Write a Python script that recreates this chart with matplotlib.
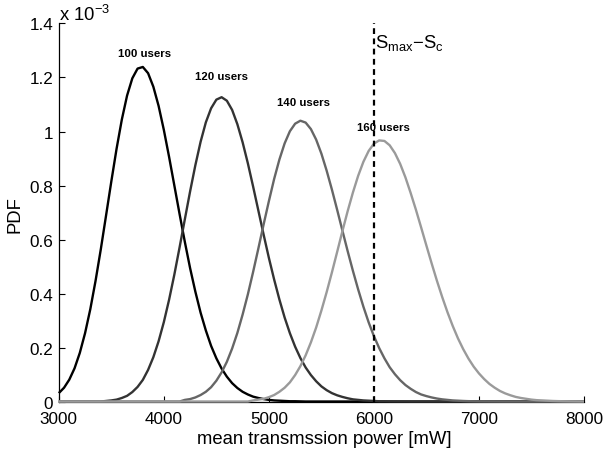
import numpy as np
import matplotlib
matplotlib.use("Agg")
import matplotlib.pyplot as plt

plt.rcParams['font.family'] = ['Liberation Sans', 'DejaVu Sans']
plt.rcParams['mathtext.fontset'] = 'custom'
plt.rcParams['mathtext.rm'] = 'Liberation Sans'
plt.rcParams['mathtext.it'] = 'Liberation Sans'
plt.rcParams['mathtext.bf'] = 'Liberation Sans:bold'

# ---------------- data (PDF values in units of 1e-3) ----------------
power_mw = np.arange(3000, 8001, 50)          # shared x grid [mW]

pdf_100 = [
    0.031, 0.051, 0.081, 0.123, 0.180, 0.253, 0.342, 0.447, 0.564, 0.689,
    0.815, 0.936, 1.044, 1.133, 1.197, 1.233, 1.239, 1.216, 1.166, 1.095,
    1.006, 0.906, 0.800, 0.694, 0.591, 0.494, 0.407, 0.329, 0.263, 0.206,
    0.160, 0.122, 0.092, 0.068, 0.050, 0.036, 0.026, 0.018, 0.013, 0.009,
    0.006, 0.004, 0.003, 0.002, 0.001, 0.001, 0.0005,
    0, 0, 0, 0, 0, 0, 0, 0, 0, 0,
    0, 0, 0, 0, 0, 0, 0, 0, 0, 0,
    0, 0, 0, 0, 0, 0, 0, 0, 0, 0,
    0, 0, 0, 0, 0, 0, 0, 0, 0, 0,
    0, 0, 0, 0, 0, 0, 0, 0, 0, 0,
    0, 0, 0, 0,
]

pdf_120 = [
    0, 0, 0, 0, 0, 0, 0, 0, 0,
    0.002, 0.004, 0.007, 0.013, 0.021, 0.035, 0.054, 0.080, 0.117, 0.164,
    0.223, 0.294, 0.377, 0.470, 0.571, 0.675, 0.778, 0.875, 0.962, 1.034,
    1.086, 1.118, 1.127, 1.114, 1.080, 1.027, 0.960, 0.882, 0.796, 0.707,
    0.618, 0.532, 0.452, 0.378, 0.311, 0.253, 0.203, 0.161, 0.126, 0.098,
    0.075, 0.056, 0.042, 0.031, 0.023, 0.017, 0.012, 0.008, 0.006, 0.004,
    0.003, 0.002, 0.001, 0.001, 0.0006, 0.0004, 0.0003, 0.0002,
    0, 0, 0, 0, 0, 0, 0, 0, 0, 0,
    0, 0, 0, 0, 0, 0, 0, 0, 0, 0,
    0, 0, 0, 0, 0, 0, 0, 0, 0, 0,
    0, 0, 0, 0,
]

pdf_140 = [
    0, 0, 0, 0, 0, 0, 0, 0, 0, 0,
    0, 0, 0, 0, 0, 0, 0, 0, 0, 0,
    0, 0, 0, 0,
    0.006, 0.009, 0.015, 0.024, 0.036, 0.053, 0.077, 0.108, 0.147, 0.196,
    0.254, 0.322, 0.397, 0.480, 0.567, 0.656, 0.742, 0.824, 0.896, 0.956,
    1.001, 1.029, 1.040, 1.033, 1.009, 0.970, 0.918, 0.855, 0.785, 0.710,
    0.633, 0.557, 0.484, 0.415, 0.351, 0.293, 0.242, 0.198, 0.160, 0.127,
    0.101, 0.079, 0.061, 0.047, 0.035, 0.026, 0.020, 0.015, 0.011, 0.008,
    0.006, 0.004, 0.003, 0.002, 0.0013, 0.0009, 0.0006, 0.0004, 0.0003, 0.0002,
    0.0001,
    0, 0, 0, 0, 0, 0, 0, 0, 0, 0,
    0, 0, 0, 0, 0, 0,
]

pdf_160 = [
    0, 0, 0, 0, 0, 0, 0, 0, 0, 0,
    0, 0, 0, 0, 0, 0, 0, 0, 0, 0,
    0, 0, 0, 0, 0, 0, 0, 0, 0, 0,
    0, 0, 0, 0, 0, 0, 0,
    0.004, 0.007, 0.010, 0.016, 0.024, 0.036, 0.051, 0.071, 0.098, 0.131,
    0.171, 0.219, 0.274, 0.337, 0.405, 0.478, 0.554, 0.631, 0.705, 0.774,
    0.836, 0.888, 0.928, 0.955, 0.967, 0.965, 0.949, 0.920, 0.880, 0.830,
    0.772, 0.710, 0.644, 0.577, 0.511, 0.447, 0.387, 0.331, 0.280, 0.234,
    0.194, 0.159, 0.129, 0.104, 0.083, 0.065, 0.051, 0.039, 0.030, 0.023,
    0.017, 0.013, 0.010, 0.007, 0.005, 0.004, 0.003, 0.002, 0.0014, 0.001,
    0.0007, 0.0005, 0.0003, 0.0002,
]

series_labels = ['100 users', '120 users', '140 users', '160 users']
smax_minus_sc = 6000                          # threshold [mW]
x_ticks = [3000, 4000, 5000, 6000, 7000, 8000]
y_ticks = [0, 0.2, 0.4, 0.6, 0.8, 1.0, 1.2, 1.4]
y_tick_labels = ['0', '0.2', '0.4', '0.6', '0.8', '1', '1.2', '1.4']

# ---------------- styling / annotation placement ----------------
colors = ['#000000', '#333333', '#666666', '#9a9a9a']
label_pos = [(3815, 1.289), (4553, 1.204), (5333, 1.108), (6091, 1.018)]

fig = plt.figure(figsize=(6.03, 4.52), dpi=100)
ax = fig.add_axes([0.0975, 0.1095, 0.8710, 0.8363])

for vals, col in zip([pdf_100, pdf_120, pdf_140, pdf_160], colors):
    ax.plot(power_mw, vals, color=col, lw=1.7, zorder=3, clip_on=False,
            solid_capstyle='butt', solid_joinstyle='round')

ax.axvline(smax_minus_sc, color='black', lw=1.6, ls=(0, (2.6, 2.0)), zorder=4)

for (lx, ly), lab in zip(label_pos, series_labels):
    ax.text(lx, ly, lab, ha='center', va='center', fontsize=8.2,
            fontweight='bold', zorder=5)

ax.text(smax_minus_sc + 15, 1.33, r'$\mathregular{S_{max}{-}S_c}$',
        ha='left', va='center', fontsize=13.3)

ax.set_xlim(3000, 8000)
ax.set_ylim(0, 1.4)
ax.set_xticks(x_ticks)
ax.set_xticklabels([str(t) for t in x_ticks])
ax.set_yticks(y_ticks)
ax.set_yticklabels(y_tick_labels)
ax.spines['top'].set_visible(False)
ax.spines['right'].set_visible(False)
for s in ['left', 'bottom']:
    ax.spines[s].set_linewidth(0.9)
    ax.spines[s].set_zorder(1)
ax.tick_params(direction='in', length=4.5, width=0.8, labelsize=12.3)
ax.tick_params(axis='x', pad=7)
ax.tick_params(axis='y', pad=4)

fig.text(324 / 603, 1 - 440 / 452, 'mean transmssion power [mW]',
         ha='center', va='center', fontsize=13.3)
fig.text(15 / 603, 1 - 215 / 452, 'PDF', ha='center', va='center',
         rotation=90, fontsize=13.3)
fig.text(59 / 603, 1 - 15 / 452, r'x 10$^{\mathregular{-3}}$',
         ha='left', va='center', fontsize=13.3)

fig.savefig('out.png', dpi=100)
